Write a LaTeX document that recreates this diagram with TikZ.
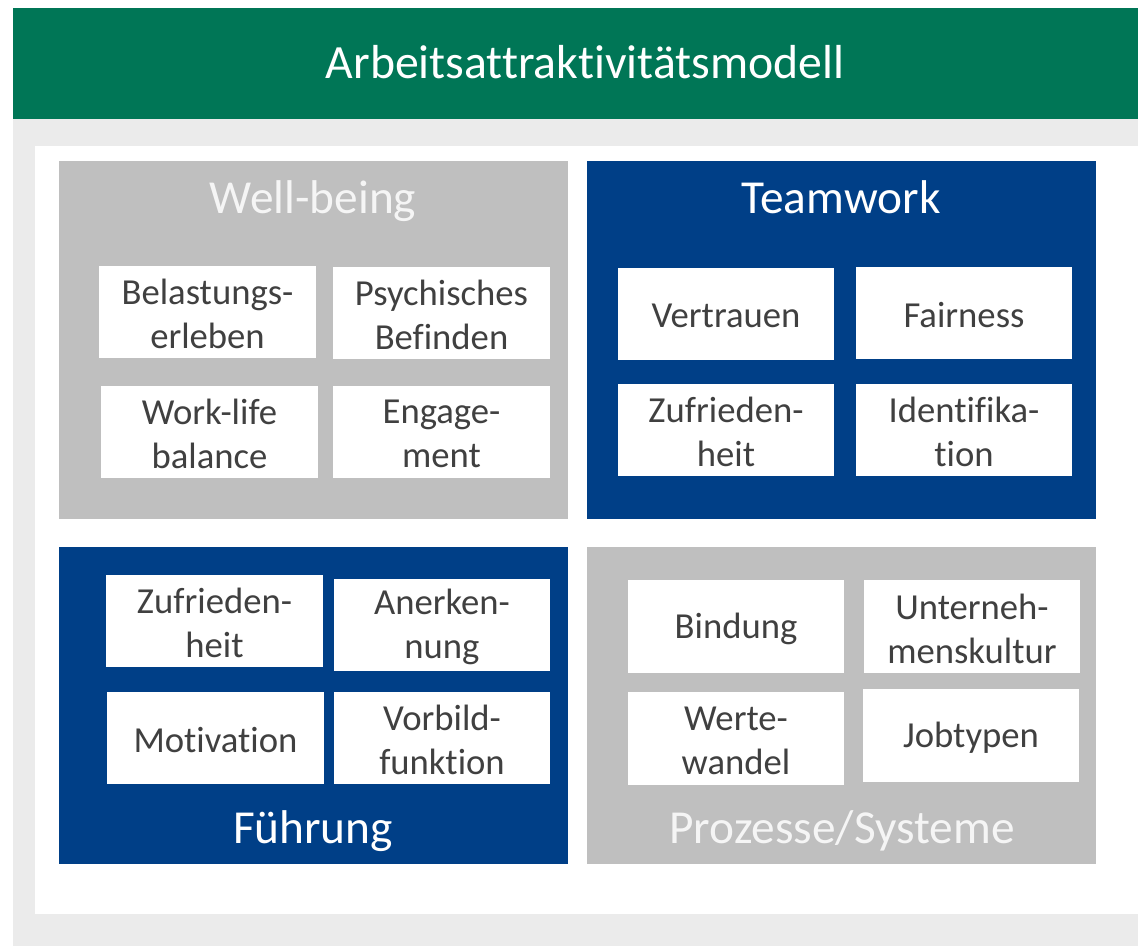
\documentclass[tikz,border=0pt]{standalone}
\usepackage{fontspec}
\setmainfont[Ligatures=NoCommon]{Carlito}
\usetikzlibrary{fit}
\definecolor{hdrgreen}{RGB}{0,118,86}
\definecolor{panelblue}{RGB}{0,63,135}
\definecolor{panelgray}{RGB}{191,191,191}
\definecolor{lightbg}{RGB}{235,235,235}
\definecolor{boxtext}{RGB}{64,64,64}
\definecolor{titlelight}{RGB}{245,245,245}
\begin{document}
\begin{tikzpicture}[x=0.75pt,y=-0.75pt,
  panel/.style={inner sep=0pt, draw=none},
  bluepanel/.style={panel, fill=panelblue},
  graypanel/.style={panel, fill=panelgray},
  ibox/.style={inner sep=0pt, fill=white},
  itext/.style={inner sep=0pt, text=boxtext, align=center, yshift=-1.5pt,
    font=\fontsize{27.5}{33}\selectfont},
  ptitle/.style={anchor=base, inner sep=0pt, font=\fontsize{35.5}{40}\selectfont},
]
\useasboundingbox (0,0) rectangle (1138,946);
\fill[white] (0,0) rectangle (1138,946);
\fill[lightbg] (13,119) rectangle (1138,946);
\node[panel, fill=hdrgreen, fit={(13,8) (1138,119)}] (header) {};
\node[anchor=base, inner sep=0pt, text=white, font=\fontsize{35.8}{40}\selectfont] (htitle) at (585,78) {Arbeitsattraktivitätsmodell};
\fill[white] (35,146) rectangle (1138,914);

% Well-being
\node[graypanel, fit={(59,161) (568,519)}] (wb) {};
\node[ptitle, text=titlelight] (wbt) at (313,213) {Well-being};
\node[ibox, fit={(99,266) (316,358)}] (wb1) {};
\node[itext] at (wb1.center) {Belastungs-\\erleben};
\node[ibox, fit={(333,267) (550,359)}] (wb2) {};
\node[itext] at (wb2.center) {Psychisches\\Befinden};
\node[ibox, fit={(101,386) (318,478)}] (wb3) {};
\node[itext] at (wb3.center) {Work-life\\balance};
\node[ibox, fit={(333,386) (550,478)}] (wb4) {};
\node[itext] at (wb4.center) {Engage-\\ment};

% Teamwork
\node[bluepanel, fit={(587,161) (1096,519)}] (tw) {};
\node[ptitle, text=white] (twt) at (841,213) {Teamwork};
\node[ibox, fit={(618,268) (834,360)}] (tw1) {};
\node[itext] at (tw1.center) {Vertrauen};
\node[ibox, fit={(856,267) (1072,359)}] (tw2) {};
\node[itext] at (tw2.center) {Fairness};
\node[ibox, fit={(618,384) (834,476)}] (tw3) {};
\node[itext] at (tw3.center) {Zufrieden-\\heit};
\node[ibox, fit={(856,384) (1072,476)}] (tw4) {};
\node[itext] at (tw4.center) {Identifika-\\tion};

% Fuehrung
\node[bluepanel, fit={(59,547) (568,864)}] (fu) {};
\node[ptitle, text=white] (fut) at (313,843) {Führung};
\node[ibox, fit={(106,575) (323,667)}] (fu1) {};
\node[itext] at (fu1.center) {Zufrieden-\\heit};
\node[ibox, fit={(334,579) (550,671)}] (fu2) {};
\node[itext] at (fu2.center) {Anerken-\\nung};
\node[ibox, fit={(107,692) (324,784)}] (fu3) {};
\node[itext] at (fu3.center) {Motivation};
\node[ibox, fit={(334,692) (550,784)}] (fu4) {};
\node[itext] at (fu4.center) {Vorbild-\\funktion};

% Prozesse/Systeme
\node[graypanel, fit={(587,547) (1096,864)}] (ps) {};
\node[ptitle, text=titlelight] (pst) at (842,843) {Prozesse/Systeme};
\node[ibox, fit={(628,580) (844,673)}] (ps1) {};
\node[itext] at (ps1.center) {Bindung};
\node[ibox, fit={(864,580) (1080,673)}] (ps2) {};
\node[itext] at (ps2.center) {Unterneh-\\menskultur};
\node[ibox, fit={(628,692) (844,785)}] (ps3) {};
\node[itext] at (ps3.center) {Werte-\\wandel};
\node[ibox, fit={(863,689) (1079,782)}] (ps4) {};
\node[itext] at (ps4.center) {Jobtypen};
\end{tikzpicture}
\end{document}
